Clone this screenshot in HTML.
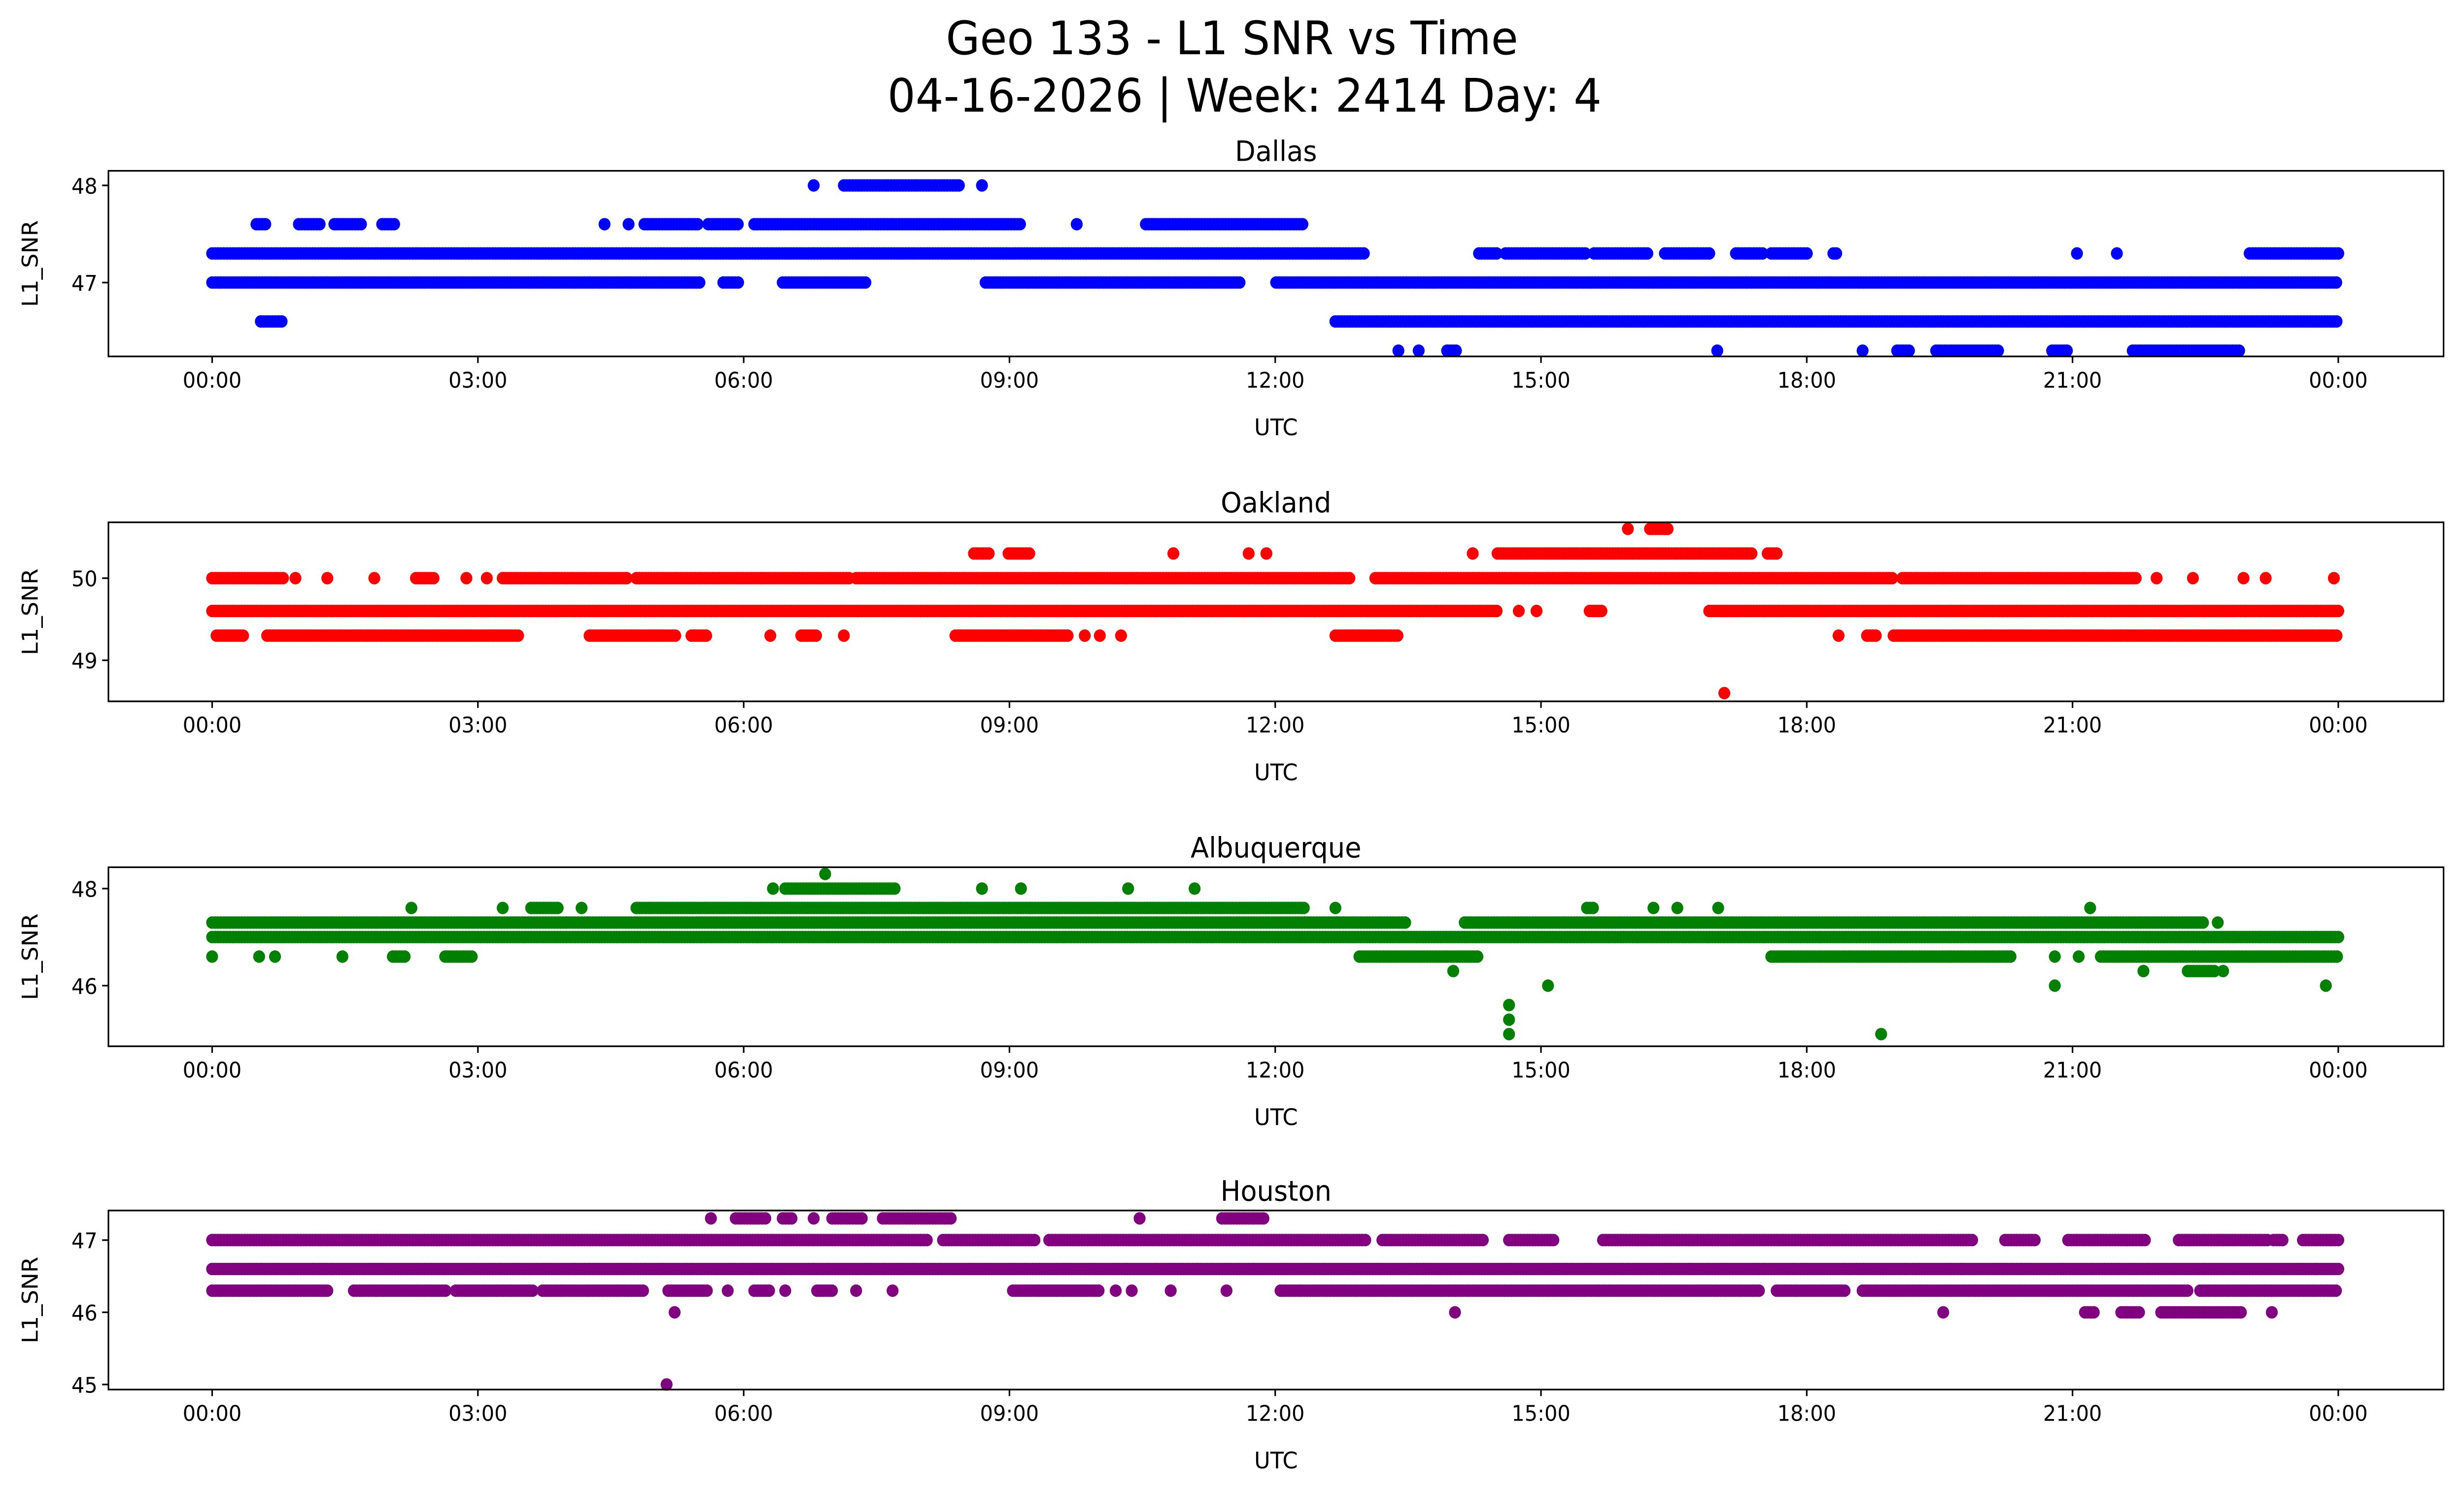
<!DOCTYPE html>
<html><head><meta charset="utf-8">
<style>html,body{margin:0;padding:0;background:#fff;overflow:hidden}svg{display:block;width:100vw;height:100vh}text{font-family:"DejaVu Sans","Liberation Sans",sans-serif;fill:#000}</style>
</head><body>
<svg id="fig" viewBox="0 0 1568 910.2" preserveAspectRatio="none" xmlns="http://www.w3.org/2000/svg">
<rect width="1568" height="910.2" fill="#fff"/>
<text x="784" y="33" font-size="28" text-anchor="middle">Geo 133 - L1 SNR vs Time</text>
<text x="792" y="68" font-size="28" text-anchor="middle">04-16-2026 | Week: 2414 Day: 4</text>
</svg>
<script>
// x-axis tick labels (hours offset from 00:00)
const xTickHours = [0,3,6,9,12,15,18,21,24];
const xTickLabels = ["00:00","03:00","06:00","09:00","12:00","15:00","18:00","21:00","00:00"];
// Station names
const stations = ["Dallas","Oakland","Albuquerque","Houston"];
const colors = ["#0000ff","#ff0000","#008000","#800080"];
// y ticks per station
const dallasTicks = [48,47];
const oaklandTicks = [50,49];
const abqTicks = [48,46];
const houstonTicks = [47,46,45];
// y limits per station
const dallasYlim = [46.24,48.15];
const oaklandYlim = [48.5,50.68];
const abqYlim = [44.75,48.44];
const houstonYlim = [44.93,47.41];
// Series: for each SNR level, time intervals (hours) where observations exist
const dallasLevels = [47.3,47,47.6,48,46.6,46.3];
const dallasRuns = [
 [[0,13.0],[14.3,14.5],[14.6,15.5],[15.6,16.2],[16.4,16.9],[17.2,17.5],[17.6,18.0],[18.3,18.35],[21.05,21.05],[21.5,21.5],[23.0,24]],
 [[0,5.5],[5.77,5.94],[6.44,7.4],[8.73,11.62],[12.01,24]],
 [[0.5,0.62],[0.98,1.24],[1.38,1.69],[1.92,2.08],[4.43,4.43],[4.7,4.7],[4.88,5.5],[5.6,5.94],[6.12,9.14],[9.76,9.76],[10.54,12.33]],
 [[6.79,6.79],[7.13,8.43],[8.69,8.69]],
 [[0.55,0.8],[12.68,24]],
 [[13.39,13.39],[13.62,13.62],[13.94,14.07],[16.99,16.99],[18.63,18.63],[19.02,19.16],[19.46,20.17],[20.77,20.95],[21.68,22.88]]
];
const oaklandLevels = [49.6,50,49.3,50.3,50.6,48.6];
const oaklandRuns = [
 [[0,14.5],[14.75,14.75],[14.95,14.95],[15.55,15.7],[16.9,24]],
 [[0,0.8],[0.94,0.94],[1.3,1.3],[1.83,1.83],[2.3,2.5],[2.87,2.87],[3.1,3.1],[3.28,4.7],[4.79,7.2],[7.27,12.86],[13.13,18.98],[19.08,21.73],[21.95,21.95],[22.36,22.36],[22.93,22.93],[23.18,23.18],[23.95,23.95]],
 [[0.05,0.35],[0.62,3.46],[4.26,5.24],[5.41,5.59],[6.3,6.3],[6.65,6.83],[7.13,7.13],[8.39,9.67],[9.85,9.85],[10.02,10.02],[10.26,10.26],[12.68,13.4],[18.36,18.36],[18.68,18.8],[18.98,24]],
 [[8.6,8.78],[8.99,9.23],[10.85,10.85],[11.7,11.7],[11.9,11.9],[14.23,14.23],[14.51,17.38],[17.56,17.68]],
 [[15.98,15.98],[16.23,16.44]],
 [[17.07,17.07]]
];
const abqLevels = [47,47.3,46.6,47.6,48,48.3,46.3,46,45.6,45.3,45];
const abqRuns = [
 [[0,24]],
 [[0,13.48],[14.14,22.5],[22.64,22.64]],
 [[0,0],[0.53,0.53],[0.71,0.71],[1.47,1.47],[2.04,2.18],[2.63,2.93],[12.95,14.3],[17.6,20.3],[20.8,20.8],[21.07,21.07],[21.32,24]],
 [[2.25,2.25],[3.28,3.28],[3.6,3.9],[4.17,4.17],[4.79,12.33],[12.68,12.68],[15.52,15.6],[16.27,16.27],[16.54,16.54],[17.0,17.0],[21.2,21.2]],
 [[6.33,6.33],[6.47,7.72],[8.69,8.69],[9.13,9.13],[10.34,10.34],[11.09,11.09]],
 [[6.92,6.92]],
 [[14.01,14.01],[21.8,21.8],[22.3,22.6],[22.7,22.7]],
 [[15.08,15.08],[20.8,20.8],[23.86,23.86]],
 [[14.64,14.64]],
 [[14.64,14.64]],
 [[14.64,14.64],[18.84,18.84]]
];
const houstonLevels = [46.6,47,46.3,47.3,46,45];
const houstonRuns = [
 [[0,24]],
 [[0,8.07],[8.25,9.31],[9.45,13.04],[13.21,14.37],[14.64,15.16],[15.7,19.88],[20.24,20.6],[20.95,21.84],[22.2,23.2],[23.27,23.4],[23.6,24]],
 [[0,1.33],[1.6,2.66],[2.75,3.64],[3.73,4.88],[5.15,5.59],[5.82,5.82],[6.12,6.3],[6.47,6.47],[6.83,7.0],[7.27,7.27],[7.68,7.68],[9.04,10.02],[10.2,10.2],[10.38,10.38],[10.82,10.82],[11.45,11.45],[12.06,17.47],[17.66,18.45],[18.63,22.3],[22.44,24]],
 [[5.63,5.63],[5.91,6.26],[6.44,6.56],[6.79,6.79],[7.0,7.36],[7.57,8.34],[10.47,10.47],[11.4,11.88]],
 [[5.22,5.22],[14.03,14.03],[19.54,19.54],[21.14,21.25],[21.55,21.78],[22.0,22.91],[23.25,23.25]],
 [[5.13,5.13]]
];

const NS = "http://www.w3.org/2000/svg";
const svg = document.getElementById("fig");
const X0 = 69, X1 = 1555, T0 = 135, T24 = 1488;
const panelTops = [104,318,528,737];
const panelH = [113,109,109,109];
const allTicks = [dallasTicks,oaklandTicks,abqTicks,houstonTicks];
const allYlim = [dallasYlim,oaklandYlim,abqYlim,houstonYlim];
const allLevels = [dallasLevels,oaklandLevels,abqLevels,houstonLevels];
const allRuns = [dallasRuns,oaklandRuns,abqRuns,houstonRuns];
function xScale(h){ return T0 + (T24 - T0) * h / 24; }
function mk(tag, attrs){ const e = document.createElementNS(NS, tag); for (const k in attrs) e.setAttribute(k, attrs[k]); return e; }

for (let p = 0; p < 4; p++) {
  const top = panelTops[p], bot = top + panelH[p];
  const [lo, hi] = allYlim[p];
  const yScale = v => bot - (v - lo) / (hi - lo) * (bot - top);
  const g = mk("g", {});
  
  
  svg.appendChild(g);
  const t = mk("text", {x: (X0+X1)/2, y: top - 6, "font-size": 17, "text-anchor": "middle"});
  
  
  t.textContent = stations[p];
  g.appendChild(t);
  const pts = mk("g", {fill: colors[p]});
  
  
  g.appendChild(pts);
  const levels = allLevels[p], runs = allRuns[p];
  for (let i = 0; i < levels.length; i++) {
    const cy = yScale(levels[i]);
    for (const [a, b] of runs[i]) {
      for (let h = a; h <= b + 1e-9; h += 1/30) {
        const c = mk("circle", {cx: xScale(h).toFixed(1), cy: cy.toFixed(1), r: 3.8});
        
        
        pts.appendChild(c);
      }
    }
  }
  const fr = mk("rect", {x: X0, y: top, width: X1 - X0, height: bot - top, fill: "none", stroke: "#000", "stroke-width": 1});
  
  
  g.appendChild(fr);
  for (let k = 0; k < xTickHours.length; k++) {
    const x = xScale(xTickHours[k]);
    const tk = mk("line", {x1: x, x2: x, y1: bot, y2: bot + 4, stroke: "#000", "stroke-width": 1});
    
    
    g.appendChild(tk);
    const tl = mk("text", {x: x, y: bot + 19, "font-size": 13, "text-anchor": "middle"});
    
    
    tl.textContent = xTickLabels[k];
    g.appendChild(tl);
  }
  const xl = mk("text", {x: (X0+X1)/2, y: bot + 48, "font-size": 14, "text-anchor": "middle"});
  
  
  xl.textContent = "UTC";
  g.appendChild(xl);
  for (const v of allTicks[p]) {
    const y = yScale(v);
    const tk = mk("line", {x1: X0 - 4, x2: X0, y1: y, y2: y, stroke: "#000", "stroke-width": 1});
    
    
    g.appendChild(tk);
    const tl = mk("text", {x: X0 - 7, y: y + 5, "font-size": 13, "text-anchor": "end"});
    
    
    tl.textContent = String(v);
    g.appendChild(tl);
  }
  const yl = mk("text", {x: 0, y: 0, "font-size": 14, "text-anchor": "middle", transform: `translate(24,${(top+bot)/2}) rotate(-90)`});
  
  
  yl.textContent = "L1_SNR";
  g.appendChild(yl);
}
</script>
</body></html>
